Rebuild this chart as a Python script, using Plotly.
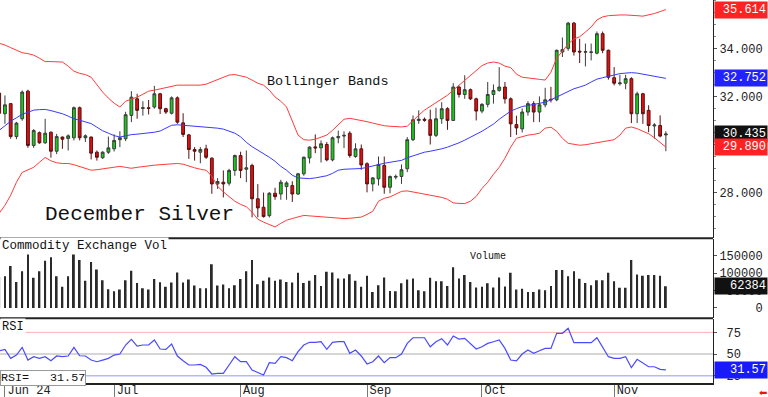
import plotly.graph_objects as go

# ---------------- data ----------------
opens = [32.14,31.28,31.70,30.33,31.07,32.22,29.96,30.49,30.07,30.51,29.72,30.31,30.25,30.28,31.53,30.28,30.31,29.68,29.45,29.68,
         29.82,30.20,30.24,31.21,31.90,31.50,31.53,31.56,32.11,31.49,31.30,31.94,30.90,30.40,29.79,29.68,29.82,29.43,28.36,28.43,
         28.39,28.92,29.54,28.97,29.13,27.74,27.39,27.04,27.97,27.94,28.25,28.29,27.94,28.78,29.44,29.90,29.86,30.00,29.36,30.28,
         30.35,30.47,29.50,29.82,29.20,28.36,28.57,29.13,28.22,28.64,28.67,28.99,30.20,31.00,31.05,31.03,30.38,31.07,31.49,31.00,
         32.39,32.08,32.28,31.90,31.39,31.67,32.08,32.25,32.39,31.90,30.83,30.65,31.35,31.70,31.35,31.65,31.88,31.86,33.85,34.00,
         35.05,33.88,33.84,33.83,33.80,34.61,33.92,32.78,32.53,32.55,32.74,31.28,32.11,31.42,30.77,30.79,30.40]
highs = [32.30,32.04,31.72,30.94,32.25,32.28,30.64,30.54,31.07,30.54,30.44,30.33,30.42,31.58,31.58,30.42,30.33,29.75,29.72,30.33,
         30.42,30.55,31.36,32.22,32.11,31.80,31.85,32.44,32.15,31.53,32.00,32.00,31.30,30.44,29.89,29.89,29.99,29.47,28.60,28.92,
         28.99,29.58,29.70,29.75,29.20,28.35,28.00,28.02,28.20,28.53,28.47,28.47,28.82,29.50,29.92,30.42,30.17,30.10,30.33,30.58,
         30.55,30.55,30.05,30.00,29.26,28.65,29.50,29.50,28.71,28.75,29.17,30.31,31.21,31.42,31.12,31.45,31.53,31.76,31.55,32.55,
         32.45,32.88,32.33,31.95,31.72,32.60,32.50,33.22,32.60,31.96,31.20,31.50,31.80,31.80,32.00,32.36,32.40,33.95,34.45,35.10,
         35.10,34.40,34.20,34.20,34.70,34.70,33.95,33.22,32.90,32.90,32.80,32.20,32.15,31.63,30.89,31.21,30.55]
lows = [31.10,30.86,30.24,30.22,30.99,29.86,29.86,30.03,30.03,29.45,29.60,29.82,29.75,30.17,30.17,30.10,29.38,29.33,29.40,29.61,
        29.71,29.89,30.14,30.93,31.07,31.20,31.25,31.49,31.27,31.27,31.25,30.86,30.31,29.40,29.33,29.22,29.40,27.95,28.15,27.80,
        28.29,28.70,28.60,28.43,26.97,26.97,26.96,26.96,27.70,27.70,27.70,27.61,27.90,28.70,29.21,29.64,29.25,29.30,29.30,30.05,
        29.85,29.45,29.45,28.95,28.01,28.05,28.29,27.95,27.97,28.55,28.36,28.85,30.14,30.86,30.95,30.00,30.31,30.86,30.61,30.98,
        31.95,31.90,31.85,31.00,31.30,31.55,31.70,32.20,31.70,30.31,30.40,30.50,31.20,30.93,30.93,31.55,31.75,31.80,33.64,33.90,
        33.70,33.39,33.25,33.50,33.75,33.80,32.70,32.46,32.45,32.30,30.89,30.89,30.86,30.51,30.24,30.30,29.72]
closes = [31.30,31.65,30.33,30.89,32.18,29.96,30.58,30.07,30.47,29.72,30.33,30.22,30.36,31.53,30.28,30.36,29.64,29.47,29.68,29.86,
          30.17,30.28,31.24,31.97,31.42,31.53,31.50,32.11,31.49,31.35,31.94,30.93,30.42,29.79,29.72,29.79,29.47,28.36,28.46,28.36,
          28.92,29.54,28.92,29.03,27.74,27.36,27.00,27.97,27.83,28.43,28.40,27.94,28.78,29.47,29.89,29.86,30.03,29.36,30.28,30.33,
          30.38,29.54,29.82,29.15,28.36,28.61,29.17,28.22,28.67,28.67,28.95,30.20,31.03,31.05,31.01,30.38,31.07,31.49,31.00,32.39,
          32.08,32.28,31.90,31.39,31.67,32.08,32.25,32.39,31.90,30.86,30.69,31.35,31.70,31.35,31.65,31.86,31.86,33.92,33.95,35.05,
          33.85,33.85,33.86,33.85,34.61,33.92,32.80,32.55,32.56,32.74,31.28,32.11,31.28,30.79,30.81,30.35,30.435]

bb_upper = [34.21,34.14,34.03,33.93,33.82,33.78,33.72,33.59,33.45,33.45,33.44,33.43,33.26,33.05,32.96,32.91,32.80,32.47,32.18,31.93,
            31.72,31.56,31.80,31.89,31.97,32.09,32.22,32.26,32.32,32.37,32.43,32.47,32.47,32.47,32.47,32.47,32.51,32.61,32.72,32.80,
            32.89,32.91,32.86,32.80,32.68,32.55,32.47,32.26,31.98,31.80,31.56,31.01,30.39,30.20,30.18,30.22,30.30,30.39,30.59,30.84,
            31.05,31.09,31.05,31.01,30.95,30.89,30.82,30.78,30.76,30.74,30.73,30.76,31.01,31.22,31.43,31.59,31.76,31.91,32.05,32.26,
            32.47,32.68,32.89,33.09,33.28,33.39,33.43,33.39,33.26,33.20,32.93,32.80,32.76,32.73,32.71,32.68,33.01,33.59,33.88,34.18,
            34.39,34.48,34.68,34.89,35.18,35.31,35.36,35.39,35.39,35.39,35.39,35.36,35.34,35.39,35.45,35.53,35.614]
bb_mid = [30.59,30.80,30.97,31.11,31.26,31.34,31.43,31.45,31.46,31.41,31.36,31.28,31.18,31.07,31.01,30.95,30.87,30.72,30.57,30.47,
          30.37,30.31,30.37,30.41,30.43,30.45,30.47,30.51,30.56,30.68,30.80,30.82,30.80,30.78,30.77,30.76,30.74,30.72,30.68,30.64,
          30.55,30.47,30.32,30.09,29.91,29.76,29.64,29.47,29.30,29.09,28.93,28.72,28.61,28.59,28.58,28.61,28.66,28.70,28.80,28.93,
          28.97,28.98,28.99,29.00,29.05,29.11,29.18,29.22,29.26,29.29,29.34,29.45,29.53,29.61,29.68,29.72,29.76,29.82,29.89,29.97,
          30.07,30.18,30.30,30.43,30.55,30.70,30.85,31.05,31.24,31.39,31.49,31.58,31.62,31.66,31.70,31.76,31.86,31.97,32.09,32.22,
          32.32,32.39,32.47,32.60,32.72,32.78,32.82,32.89,32.95,32.98,32.99,32.97,32.93,32.89,32.85,32.78,32.752]
bb_lower = [27.14,27.47,27.89,28.43,28.84,28.93,29.05,29.26,29.46,29.32,29.24,29.21,29.21,29.16,29.09,29.01,28.93,28.95,28.99,29.03,
            29.07,29.09,29.05,29.01,29.05,29.09,29.11,29.14,29.16,29.17,29.19,29.21,29.18,29.09,29.03,28.97,28.93,28.68,28.26,28.03,
            27.84,27.64,27.51,27.41,27.18,26.89,26.77,26.68,26.57,26.72,26.85,26.92,26.99,27.05,27.03,27.01,27.01,26.99,26.97,26.95,
            26.92,26.93,26.95,26.98,27.09,27.22,27.64,27.76,27.82,27.93,28.05,28.07,28.03,27.97,27.95,27.91,27.87,27.80,27.72,27.57,
            27.55,27.54,27.64,27.84,28.17,28.43,28.76,29.05,29.43,29.89,30.26,30.34,30.39,30.42,30.47,30.68,30.72,30.55,30.26,30.05,
            30.01,29.97,29.99,30.03,30.05,30.11,30.16,30.20,30.39,30.68,30.73,30.66,30.55,30.45,30.28,30.10,29.89]

volume = [90000,91600,120500,75000,106000,157000,86700,106000,136000,145700,91600,60700,91600,159000,138000,78000,132000,111000,80000,54000,
          48000,53000,80000,107000,72000,57000,53000,83000,74000,60700,73000,102000,73000,82000,64700,57000,57000,126000,64700,67600,
          57000,65600,83000,106000,138000,68000,78000,88000,78000,82000,75000,73000,101000,72000,78000,94500,63000,104000,102000,85000,
          85000,97000,78000,60700,92500,46000,65600,88000,49000,48000,71000,82000,85000,51000,48000,87000,77000,77000,63000,117000,
          85000,94500,75000,59000,60700,71000,59000,88000,62000,101000,53000,55000,46000,46000,53000,51000,63000,109000,109000,91600,
          106000,84000,72000,65600,80000,80000,101000,77000,58000,58000,138000,96500,92500,94500,94500,92500,62384]

rsi = [53.8,55.4,45.0,48.8,57.7,43.0,46.9,45.0,46.9,42.3,47.7,46.9,47.7,57.7,48.0,47.7,43.0,41.1,43.0,45.0,
       48.8,50.0,60.4,67.0,59.2,60.4,60.4,66.2,55.8,55.4,61.5,47.7,42.3,37.3,37.3,38.0,34.6,26.9,27.7,27.7,
       37.3,46.9,41.1,41.1,31.5,28.4,25.8,40.0,39.2,46.9,45.8,42.3,52.7,60.4,63.5,63.5,64.2,55.4,63.5,64.2,
       64.2,50.8,54.6,47.7,38.5,41.1,47.7,40.0,45.8,45.8,50.0,62.3,68.8,68.8,68.8,58.4,64.2,67.7,60.4,70.8,
       67.3,68.0,61.5,55.8,58.4,62.3,64.2,66.2,56.5,43.0,42.0,50.0,54.6,50.8,53.8,56.5,56.5,73.9,73.9,79.7,
       63.1,63.1,63.1,63.1,68.8,58.4,46.9,45.0,45.0,46.9,34.2,43.8,39.2,35.3,35.3,32.3,31.57]

month_pos = [1, 20, 42, 64, 84, 107]
month_labels = ["Jun 24", "Jul", "Aug", "Sep", "Oct", "Nov"]

price_ticks = [28, 30, 32, 34]
vol_ticks = [0, 50000, 100000, 150000]
rsi_ticks = [25, 50, 75]

# --------------- figure ---------------
idx = list(range(len(closes)))
MONO = "Liberation Mono"
NB = "\u00a0"

fig = go.Figure()
fig.add_trace(go.Scatter(x=idx, y=bb_upper, mode="lines", line=dict(color="#ff3b3b", width=1), yaxis="y", hoverinfo="skip"))
fig.add_trace(go.Scatter(x=idx, y=bb_lower, mode="lines", line=dict(color="#ff3b3b", width=1), yaxis="y", hoverinfo="skip"))
fig.add_trace(go.Scatter(x=idx, y=bb_mid, mode="lines", line=dict(color="#3a3aff", width=1), yaxis="y", hoverinfo="skip"))
fig.add_trace(go.Candlestick(
    x=idx, open=opens, high=highs, low=lows, close=closes, yaxis="y",
    increasing=dict(line=dict(color="#3c3c3c", width=1), fillcolor="#10d010"),
    decreasing=dict(line=dict(color="#5a1010", width=1), fillcolor="#e01010"),
    whiskerwidth=0))
fig.add_trace(go.Bar(x=idx, y=volume, width=0.32, marker=dict(color="#2a2a2a", line=dict(width=0)), yaxis="y2"))
fig.add_trace(go.Scatter(x=idx, y=rsi, mode="lines", line=dict(color="#4a4aff", width=1.2), yaxis="y3"))

axis_font = dict(family=MONO, size=12, color="#222")

fig.update_layout(
    width=768, height=397,
    margin=dict(l=0, r=55, t=0, b=14, autoexpand=False),
    paper_bgcolor="white", plot_bgcolor="white",
    showlegend=False,
    xaxis=dict(range=[0.14, 124.2], anchor="y3", rangeslider=dict(visible=False), automargin=False,
               tickmode="array", tickvals=month_pos, ticktext=month_labels,
               ticks="outside", ticklen=14, tickcolor="#777", tickwidth=1,
               ticklabelposition="outside right", ticklabelstandoff=-5, ticklabelshift=1,
               tickfont=axis_font, showgrid=False, zeroline=False,
               showline=True, linecolor="#222", linewidth=2),
    yaxis=dict(domain=[0.378, 1.0], range=[26.10, 36.0125], side="right", anchor="x", automargin=False,
               tickmode="array", tickvals=price_ticks, ticktext=[f"{v:.3f}" for v in price_ticks],
               ticks="outside", ticklen=3, tickcolor="#555", tickfont=axis_font,
               minor=dict(dtick=0.5, ticks="outside", ticklen=2, tickcolor="#888"),
               showline=True, linecolor="#222", linewidth=1, showgrid=False, zeroline=False),
    yaxis2=dict(domain=[0.169, 0.376], range=[-29800, 198600], side="right", anchor="x", automargin=False,
                tickmode="array", tickvals=vol_ticks,
                ticktext=[f"{v:d}".rjust(6, NB) for v in vol_ticks],
                ticks="outside", ticklen=3, tickcolor="#555", tickfont=axis_font,
                showline=True, linecolor="#222", linewidth=1, showgrid=False, zeroline=False),
    yaxis3=dict(domain=[0.0, 0.167], range=[16.5, 90.4], side="right", anchor="x", automargin=False,
                tickmode="array", tickvals=rsi_ticks, ticktext=[NB + str(v) for v in rsi_ticks],
                ticks="outside", ticklen=3, tickcolor="#555", tickfont=axis_font,
                showline=True, linecolor="#222", linewidth=1, showgrid=False, zeroline=False),
)

# panel separators
for yp in [0.3778, 0.1689]:
    fig.add_shape(type="line", xref="paper", yref="paper", x0=0, x1=1, y0=yp, y1=yp,
                  line=dict(color="#222", width=2))
# RSI reference lines
for lvl, col in [(75, "#ffb0b0"), (50, "#c8c8c8"), (25, "#b8b8ff")]:
    fig.add_shape(type="line", xref="paper", yref="y3", x0=0, x1=1, y0=lvl, y1=lvl,
                  line=dict(color=col, width=1.5 if lvl != 75 else 1), layer="below")

def txt(text, x, y, size, xanchor="left", **kw):
    fig.add_annotation(text=text, x=x, y=y, xref="paper", yref="paper", xanchor=xanchor,
                       yanchor="middle", showarrow=False, font=dict(family=MONO, size=size, color="#111"), **kw)

txt("December Silver", 0.060, 0.441, 21)
txt("Bollinger Bands", 0.371, 0.787, 13.5)
txt("Commodity Exchange Vol", 0.0, 0.359, 12.5, bgcolor="white")
txt("Volume", 0.657, 0.329, 10)
txt("RSI", 0.0, 0.1475, 12, bgcolor="white")
txt("RSI=" + NB * 3 + "31.57", 0.0, 0.0135, 11.7, bgcolor="white", bordercolor="#999", borderwidth=1, borderpad=0)

# value boxes on the right axis
def vbox(text, y, yref, bg):
    fig.add_annotation(text=text, x=1, y=y, xref="paper", yref=yref, xanchor="left", yanchor="middle",
                       showarrow=False, bgcolor=bg, width=50, align="right", borderpad=1, xshift=1,
                       font=dict(family=MONO, size=12, color="white"))

vbox(f"{bb_upper[-1]:.3f}", bb_upper[-1], "y", "#ff2222")
vbox(f"{bb_mid[-1]:.3f}", bb_mid[-1], "y", "#2222ff")
vbox(f"{closes[-1]:.3f}", closes[-1], "y", "#111111")
vbox(f"{bb_lower[-1]:.3f}", bb_lower[-1], "y", "#ff2222")
vbox(f"{volume[-1]:d}", volume[-1], "y2", "#111111")
vbox(f"{rsi[-1]:.2f}", rsi[-1], "y3", "#1a1aff")

fig.add_annotation(text="⬅", x=1.078, y=0, yshift=-9, xref="paper", yref="paper", showarrow=False,
                   yanchor="middle", font=dict(family="DejaVu Sans", size=10, color="#ee1111"))

fig.write_html("out.html", config={"displayModeBar": False},
               post_script="document.body.style.margin='0';document.body.style.padding='0';"
                           "document.body.style.overflow='hidden';")
